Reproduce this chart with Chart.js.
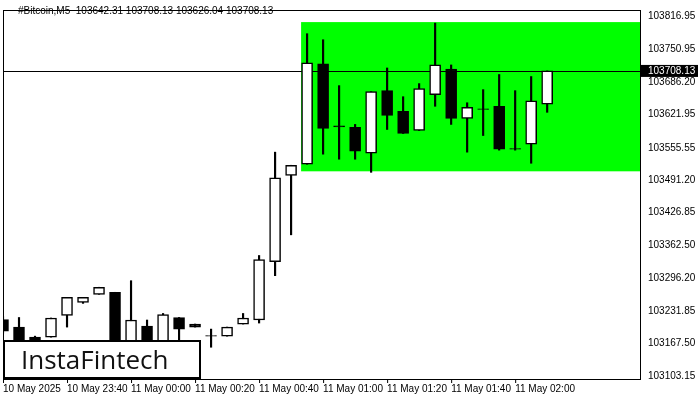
<!DOCTYPE html>
<html>
<head>
<script src="https://cdn.jsdelivr.net/npm/chart.js@4"></script>
<style>body{margin:0;background:#fff}#wrap{width:700px;height:400px}</style>
</head>
<body>
<div id="wrap"><canvas id="c"></canvas></div>
<script>
const opens  = [103215,103200,103180,103180,103223,103249,103265,103269,103164,103202,103164,103219,103206,103183,103182,103206,103214,103330,103501,103523,103722,103599,103596,103545,103669,103628,103590,103661,103712,103614,103633,103638,103554,103563,103642.31];
const highs  = [103221,103219,103182,103218,103259,103259,103279,103269,103292,103214,103227,103219,103206,103196,103200,103227,103342,103547,103521,103782,103770,103679,103602,103667,103714,103657,103683,103803,103720,103645,103671,103701,103669,103697,103708.13];
const lows   = [103188,103160,103168,103180,103200,103247,103265,103160,103160,103160,103160,103174,103200,103160,103182,103206,103208,103302,103383,103523,103543,103533,103533,103507,103592,103584,103590,103638,103602,103547,103580,103551,103551,103525,103626.04];
const closes = [103192,103164,103172,103218,103259,103259,103279,103164,103214,103164,103225,103196,103200,103182,103200,103218,103334,103496,103521,103724,103594,103597,103549,103667,103620,103584,103673,103720,103614,103636,103632,103553,103553,103649,103708.13];
const timeLabels = ['10 May 2025','10 May 23:40','11 May 00:00','11 May 00:20','11 May 00:40','11 May 01:00','11 May 01:20','11 May 01:40','11 May 02:00'];
const priceTicks = [103816.95,103750.95,103686.20,103621.95,103555.55,103491.20,103426.85,103362.50,103296.20,103231.85,103167.50,103103.15];
const rangeBox = {x0: 19, top: 103805, bottom: 103509};
const lastPrice = 103708.13;

const idx = opens.map((_, i) => i);
const bodies = idx.map(i => ({x: i, y: [opens[i], closes[i]]}));
const wicks = idx.map(i => ({x: i, y: [lows[i], highs[i]]}));
const bodyColors = idx.map(i => closes[i] >= opens[i] ? '#ffffff' : '#000000');
const FONT = '10px "Liberation Sans"';

const overlay = {
  id: 'overlay',
  beforeDatasetsDraw(chart) {
    const {ctx, chartArea: a, scales: {x, y}} = chart;
    ctx.save();
    ctx.fillStyle = '#00ff00';
    const l = x.getPixelForValue(rangeBox.x0) - 6;
    ctx.fillRect(l, y.getPixelForValue(rangeBox.top), a.right - l, y.getPixelForValue(rangeBox.bottom) - y.getPixelForValue(rangeBox.top));
    const py = Math.round(y.getPixelForValue(lastPrice)) + 0.5;
    ctx.strokeStyle = '#000';
    ctx.lineWidth = 1;
    ctx.beginPath(); ctx.moveTo(a.left, py); ctx.lineTo(a.right, py); ctx.stroke();
    ctx.restore();
  },
  afterDraw(chart) {
    const {ctx, chartArea: a, scales: {x, y}} = chart;
    ctx.save();
    ctx.strokeStyle = '#000';
    ctx.lineWidth = 1;
    ctx.strokeRect(a.left + 0.5, a.top + 0.5, a.right - a.left, a.bottom - a.top);
    // time labels start at their tick
    ctx.fillStyle = '#000';
    ctx.font = FONT;
    ctx.textBaseline = 'alphabetic';
    timeLabels.forEach((t, i) => {
      const px = x.getPixelForValue(i * 4);
      ctx.fillRect(px, a.bottom, 1, 4);
      ctx.fillText(t, px, 392);
    });
    const py = y.getPixelForValue(lastPrice);
    ctx.fillRect(a.right, py - 6, 58, 12);
    ctx.fillStyle = '#fff';
    ctx.textBaseline = 'middle';
    ctx.fillText('103708.13', a.right + 8, py);
    ctx.fillStyle = '#000';
    ctx.textBaseline = 'alphabetic';
    ctx.fillText('#Bitcoin,M5  103642.31 103708.13 103626.04 103708.13', 18, 14);
    ctx.fillStyle = '#fff';
    ctx.fillRect(4, 341, 196, 37);
    ctx.lineWidth = 2;
    ctx.strokeRect(4, 341, 196, 37);
    ctx.fillStyle = '#111';
    ctx.font = '500 26px "Open Sans"';
    ctx.fillText('InstaFintech', 21, 369);
    ctx.restore();
  }
};

new Chart(document.getElementById('c'), {
  type: 'bar',
  data: {
    datasets: [
      {data: bodies, backgroundColor: bodyColors, borderColor: '#000', borderWidth: 1.5, borderSkipped: false, barThickness: 11, grouped: false, order: 1},
      {data: wicks, backgroundColor: '#000', borderWidth: 0, barThickness: 1.5, grouped: false, order: 2}
    ]
  },
  plugins: [overlay],
  options: {
    responsive: true,
    maintainAspectRatio: false,
    animation: false,
    layout: {padding: {left: 3, top: 3, right: 0, bottom: 0}},
    plugins: {legend: {display: false}, tooltip: {enabled: false}},
    scales: {
      x: {
        type: 'linear', min: 0, max: 39.8, offset: false,
        grid: {display: false},
        border: {display: false},
        ticks: {display: false},
        afterFit: s => { s.height = 21; }
      },
      y: {
        position: 'right', min: 103097, max: 103829,
        grid: {display: false, tickLength: 4},
        border: {display: false},
        afterFit: s => { s.width = 60; },
        afterBuildTicks: s => { s.ticks = priceTicks.map(v => ({value: v})); },
        ticks: {autoSkip: false, color: '#000', padding: 4, font: {size: 10, family: 'Liberation Sans'},
          callback: v => v.toFixed(2)}
      }
    }
  }
});
</script>
</body>
</html>
